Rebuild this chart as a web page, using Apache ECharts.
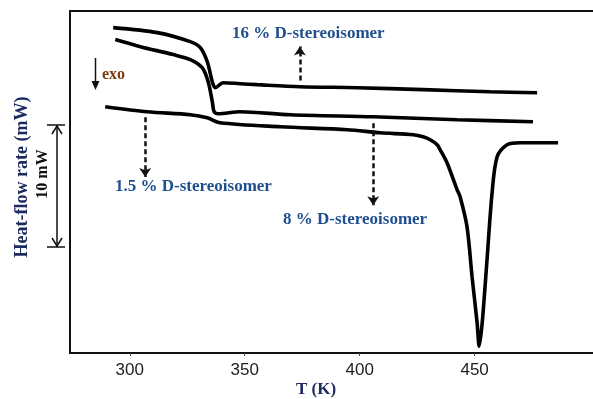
<!DOCTYPE html>
<html>
<head>
<meta charset="utf-8">
<script src="https://cdn.jsdelivr.net/npm/echarts@6/dist/echarts.min.js"></script>
<style>
html,body{margin:0;padding:0;background:#fff;}
#chart{width:593px;height:399px;}
</style>
</head>
<body>
<div id="chart"></div>
<script>
// Temperature (K) and heat-flow (mW, arbitrary offset)
var tempD16 = [292.8, 312.0, 326.3, 330.7, 333.7, 335.9, 337.2, 340.7, 348.0, 355.4, 374.1, 398.9, 427.6, 456.7, 477.2];
var heatD16 = [26.64, 26.23, 25.49, 25.0, 23.85, 22.21, 21.72, 22.13, 22.05, 21.97, 21.80, 21.72, 21.56, 21.39, 21.31];

var tempD15 = [293.7, 304.6, 318.9, 326.3, 331.5, 334.1, 335.9, 336.7, 338.5, 348.0, 369.8, 405.9, 442.4, 475.4];
var heatD15 = [25.66, 25.08, 24.43, 24.02, 23.36, 22.21, 20.57, 19.75, 19.59, 19.75, 19.51, 19.34, 19.10, 18.93];

var tempD8 = [289.3, 307.6, 326.3, 333.7, 339.3, 365.4, 394.6, 408.9, 423.3, 427.6, 430.7, 433.7, 435.0, 438.0, 442.4, 443.7, 446.7, 448.9, 451.1, 452.0, 453.3, 455.4, 457.6, 459.8, 464.1, 469.8, 486.3];
var heatD8 = [20.16, 19.75, 19.51, 19.26, 18.85, 18.52, 18.28, 18.03, 17.87, 17.70, 17.46, 17.05, 16.64, 15.57, 13.36, 12.79, 10.33, 6.23, 2.46, 0.55, 2.46, 7.62, 13.11, 16.07, 17.05, 17.21, 17.21];

var xTicks = [300, 350, 400, 450];

// annotation arrows (data coordinates): [T, yStart, yEnd]
var arrow16 = [374, 22.3, 25.1];
var arrow15 = [306.7, 19.3, 14.4];
var arrow8 = [405.9, 18.8, 12.1];

function pairs(xs, ys) { return xs.map(function (x, i) { return [x, ys[i]]; }); }

var chart = echarts.init(document.getElementById('chart'));
var serif = '"Liberation Serif", "DejaVu Serif", serif';
var blue = '#1f4f8f';
var navy = '#1c2b5e';

function arrowLine(a) {
  return [{ coord: [a[0], a[1]] }, { coord: [a[0], a[2]] }];
}

chart.setOption({
  animation: false,
  backgroundColor: '#fff',
  grid: { left: 70, top: 11, right: 0, bottom: 46 },
  xAxis: [{
    type: 'value', min: 274, max: 501.5,
    axisLine: { show: true, lineStyle: { color: '#111', width: 2 } },
    axisTick: { show: true, length: 3, customValues: xTicks, lineStyle: { color: '#444', width: 1 } },
    axisLabel: { customValues: xTicks, fontFamily: '"Liberation Sans", Arial, sans-serif', fontSize: 17, color: '#222', margin: 9 },
    splitLine: { show: false }
  }, {
    type: 'value', min: 274, max: 501.5, position: 'top',
    axisLine: { show: true, onZero: false, lineStyle: { color: '#111', width: 2 } },
    axisTick: { show: false }, axisLabel: { show: false }, splitLine: { show: false }
  }],
  yAxis: {
    type: 'value', min: 0, max: 28,
    axisLine: { show: true, lineStyle: { color: '#111', width: 2 } },
    axisTick: { show: false }, axisLabel: { show: false }, splitLine: { show: false }
  },
  series: [{
    type: 'line', name: '16 % D-stereoisomer', data: pairs(tempD16, heatD16),
    smooth: 0.3, showSymbol: false, lineStyle: { color: '#000', width: 3.6 },
    markLine: {
      silent: true, symbol: ['none', 'arrow'], symbolSize: [9, 9], label: { show: false },
      lineStyle: { color: '#111', width: 2.5, type: [5, 3] },
      data: [arrowLine(arrow16), arrowLine(arrow15), arrowLine(arrow8)]
    }
  }, {
    type: 'line', name: '1.5 % D-stereoisomer', data: pairs(tempD15, heatD15),
    smooth: 0.3, showSymbol: false, lineStyle: { color: '#000', width: 3.6 }
  }, {
    type: 'line', name: '8 % D-stereoisomer', data: pairs(tempD8, heatD8),
    smooth: 0.3, showSymbol: false, lineStyle: { color: '#000', width: 3.6 }
  }],
  graphic: [
    { type: 'text', left: 232, top: 25, style: { text: '16 % D-stereoisomer', fill: blue, font: 'bold 17px ' + serif } },
    { type: 'text', left: 115, top: 178, style: { text: '1.5 % D-stereoisomer', fill: blue, font: 'bold 17px ' + serif } },
    { type: 'text', left: 283, top: 211, style: { text: '8 % D-stereoisomer', fill: blue, font: 'bold 17px ' + serif } },
    { type: 'text', left: 102, top: 67, style: { text: 'exo', fill: '#7b3b13', font: 'bold 16px ' + serif } },
    // axis titles
    { type: 'text', x: 316, y: 390,
      style: { text: 'T (K)', fill: navy, font: 'bold 17px ' + serif, align: 'center', verticalAlign: 'middle' } },
    { type: 'text', x: 22, y: 177, rotation: Math.PI / 2,
      style: { text: 'Heat-flow rate (mW)', fill: navy, font: 'bold 18px ' + serif, align: 'center', verticalAlign: 'middle' } },
    // exo arrow
    { type: 'line', shape: { x1: 95.5, y1: 58, x2: 95.5, y2: 83 }, style: { stroke: '#111', lineWidth: 1.5 } },
    { type: 'polygon', shape: { points: [[91.5, 81], [99.5, 81], [95.5, 90]] }, style: { fill: '#111' } },
    // 10 mW scale bar
    { type: 'line', shape: { x1: 57, y1: 125, x2: 57, y2: 247 }, style: { stroke: '#111', lineWidth: 1.5 } },
    { type: 'line', shape: { x1: 47, y1: 125, x2: 65, y2: 125 }, style: { stroke: '#111', lineWidth: 1.5 } },
    { type: 'line', shape: { x1: 47, y1: 247, x2: 65, y2: 247 }, style: { stroke: '#111', lineWidth: 1.5 } },
    { type: 'polyline', shape: { points: [[52, 134], [57, 126], [62, 134]] }, style: { stroke: '#111', lineWidth: 1.5, fill: null } },
    { type: 'polyline', shape: { points: [[52, 238], [57, 246], [62, 238]] }, style: { stroke: '#111', lineWidth: 1.5, fill: null } },
    { type: 'text', x: 43, y: 174, rotation: Math.PI / 2,
      style: { text: '10 mW', fill: '#111', font: 'bold 16px ' + serif, align: 'center', verticalAlign: 'middle' } }
  ]
});
</script>
</body>
</html>
